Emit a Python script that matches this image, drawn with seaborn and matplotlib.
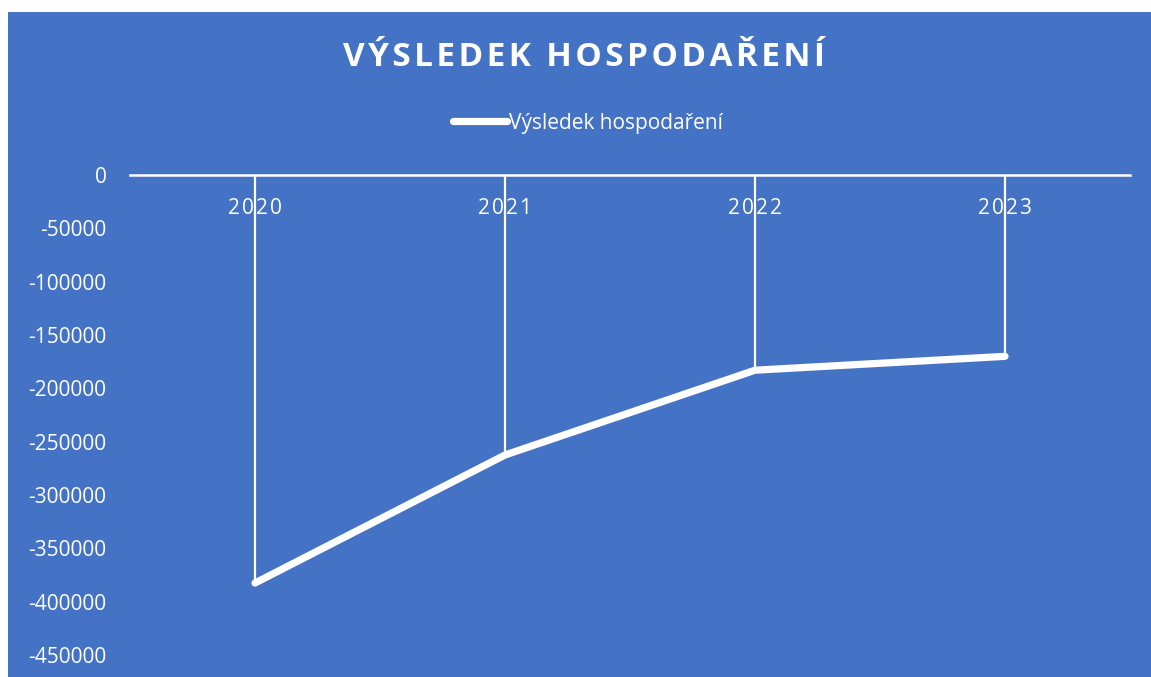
import pandas as pd
import matplotlib.pyplot as plt
import seaborn as sns
from matplotlib.patches import Rectangle

years = ['2020', '2021', '2022', '2023']
vysledek = [-382500, -262500, -183000, -170000]
y_ticks = [0, -50000, -100000, -150000, -200000, -250000, -300000, -350000, -400000, -450000]

blue = '#4472C4'

sns.set_theme(style='white')
plt.rcParams['font.family'] = ['Open Sans', 'DejaVu Sans']

df = pd.DataFrame({'rok': range(len(years)), 'hodnota': vysledek})

fig = plt.figure(figsize=(11.51, 6.77), dpi=100, facecolor='white')
fig.patches.append(Rectangle((8 / 1151, 0), 1 - 8 / 1151, 1 - 12 / 677,
                             transform=fig.transFigure, facecolor=blue,
                             edgecolor='none', zorder=-10))

ax = fig.add_axes([130 / 1151, 0, 1000 / 1151, 1 - 175 / 677])
ax.set_facecolor('none')

# svislé čáry od bodů k ose
ax.vlines(df['rok'], df['hodnota'], 0, color='white', lw=1.6, zorder=2)
sns.lineplot(data=df, x='rok', y='hodnota', ax=ax, color='white', lw=5.2,
             solid_capstyle='round', solid_joinstyle='round', zorder=3,
             label='Výsledek hospodaření')

ax.set_xlim(-0.5, len(years) - 0.5)
ax.set_ylim(-470600, 0)

for s in ['left', 'right', 'bottom']:
    ax.spines[s].set_visible(False)
ax.spines['top'].set_color('white')
ax.spines['top'].set_linewidth(1.8)

ax.set_xticks(range(len(years)))
ax.set_xticklabels(['\u200a'.join(y) for y in years])
ax.xaxis.set_ticks_position('top')
ax.tick_params(axis='x', top=False, labeltop=True, bottom=False, labelbottom=False,
               pad=-38, labelsize=15, labelcolor='white')
ax.set_yticks(y_ticks)
ax.set_yticklabels([str(v) for v in y_ticks])
ax.tick_params(axis='y', left=False, pad=11, labelsize=15, labelcolor='white')
ax.set_xlabel('')
ax.set_ylabel('')

handles, labels = ax.get_legend_handles_labels()
ax.get_legend().remove()
fig.legend(handles, labels, loc='center', bbox_to_anchor=(588 / 1151, 1 - 123 / 677),
           frameon=False, fontsize=15, handlelength=2.6, handletextpad=0.1,
           labelcolor='white')

fig.text(584 / 1151, 1 - 57 / 677, '\u200a'.join('VÝSLEDEK HOSPODAŘENÍ'),
         ha='center', va='center', color='white', fontsize=24, fontweight='bold')

fig.savefig('out.png', dpi=100, facecolor='white')
